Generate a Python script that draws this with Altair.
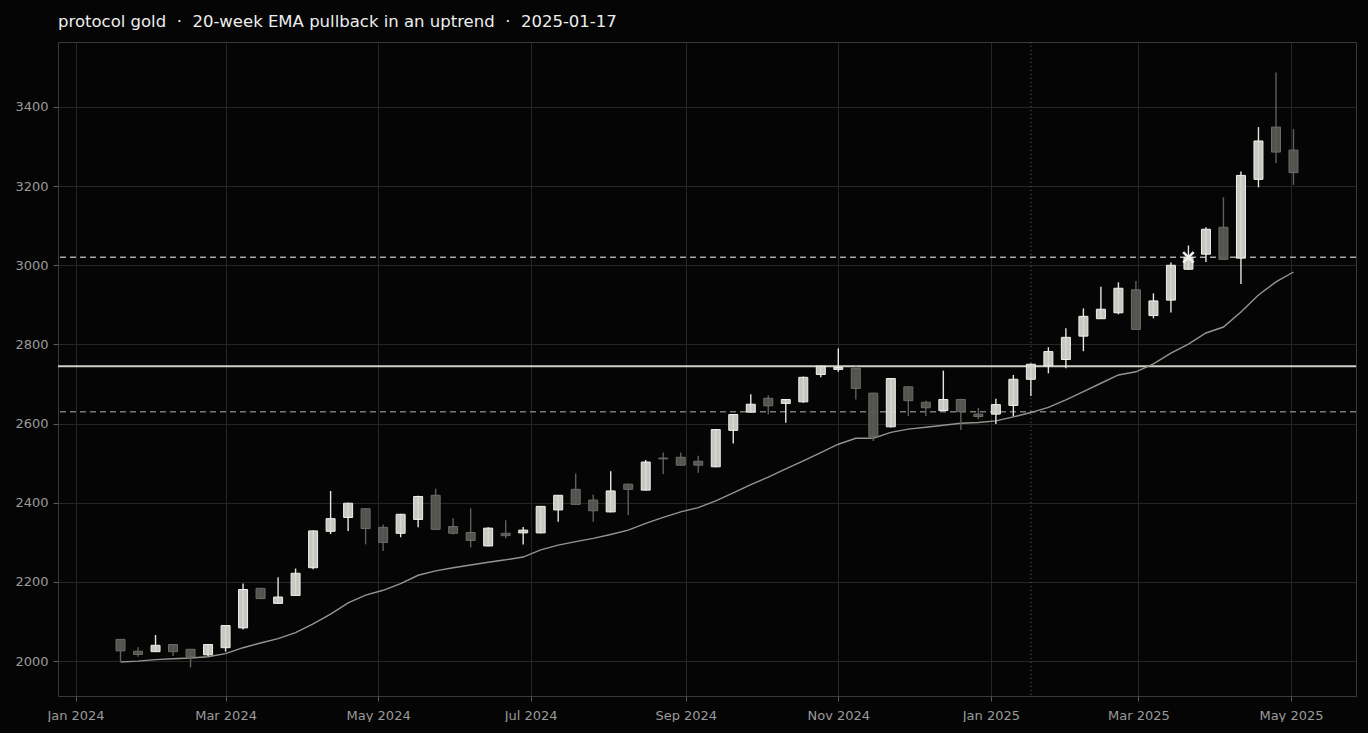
import altair as alt
import pandas as pd

# weekly candles (Fridays)
dates = pd.date_range("2024-01-19", periods=68, freq="7D").strftime("%Y-%m-%dT00:00:00").tolist()

opens = [2055, 2025, 2024, 2042, 2030, 2016, 2034, 2084, 2184, 2146,
         2166, 2236, 2328, 2363, 2385, 2338, 2323, 2358, 2419, 2340,
         2325, 2291, 2323, 2324, 2324, 2382, 2434, 2407, 2377, 2447,
         2432, 2513, 2515, 2505, 2491, 2583, 2629, 2664, 2651, 2655,
         2724, 2737, 2740, 2677, 2592, 2693, 2654, 2633, 2661, 2624,
         2624, 2646, 2712, 2746, 2762, 2821, 2865, 2880, 2938, 2873,
         2912, 2990, 3028, 3096, 3018, 3217, 3349, 3291]
closes = [2026, 2017, 2040, 2024, 2011, 2042, 2090, 2181, 2158, 2162,
          2222, 2329, 2360, 2399, 2335, 2300, 2371, 2416, 2333, 2323,
          2305, 2336, 2317, 2331, 2391, 2419, 2396, 2380, 2430, 2434,
          2503, 2511, 2495, 2495, 2585, 2623, 2649, 2645, 2661, 2717,
          2745, 2742, 2689, 2567, 2714, 2658, 2640, 2661, 2630, 2618,
          2648, 2712, 2750, 2782, 2818, 2871, 2889, 2942, 2838, 2910,
          3000, 3020, 3091, 3015, 3227, 3314, 3286, 3234]
highs = [2056, 2035, 2066, 2043, 2031, 2043, 2091, 2196, 2185, 2212,
         2234, 2330, 2430, 2400, 2386, 2345, 2372, 2418, 2436, 2361,
         2386, 2338, 2356, 2339, 2392, 2420, 2474, 2421, 2480, 2448,
         2508, 2527, 2527, 2519, 2586, 2624, 2674, 2672, 2662, 2719,
         2746, 2790, 2745, 2678, 2715, 2694, 2658, 2734, 2663, 2640,
         2663, 2723, 2752, 2793, 2841, 2891, 2946, 2957, 2960, 2929,
         3007, 3050, 3096, 3172, 3237, 3349, 3487, 3344]
lows = [1998, 2011, 2023, 2013, 1984, 2013, 2024, 2080, 2157, 2145,
        2165, 2232, 2321, 2329, 2295, 2278, 2313, 2338, 2332, 2320,
        2287, 2290, 2310, 2295, 2323, 2352, 2395, 2352, 2376, 2369,
        2431, 2473, 2494, 2476, 2490, 2550, 2628, 2624, 2602, 2653,
        2717, 2731, 2661, 2556, 2590, 2619, 2619, 2632, 2584, 2611,
        2599, 2619, 2670, 2727, 2740, 2783, 2864, 2876, 2837, 2866,
        2881, 2988, 3008, 3014, 2953, 3197, 3258, 3203]
ema20 = [1998, 2000, 2004, 2006, 2008, 2011, 2019, 2034, 2046, 2057,
         2072, 2094, 2119, 2147, 2167, 2179, 2196, 2217, 2228, 2236,
         2243, 2250, 2256, 2263, 2281, 2293, 2302, 2310, 2320, 2331,
         2348, 2363, 2377, 2388, 2405, 2425, 2446, 2465, 2486, 2506,
         2527, 2548, 2563, 2563, 2578, 2586, 2591, 2596, 2601, 2603,
         2607, 2617, 2628, 2641, 2660, 2681, 2702, 2723, 2731, 2751,
         2778, 2801, 2829, 2844, 2882, 2925, 2958, 2983]

upper_level = 3020
mid_level = 2745
lower_level = 2630
signal_date = ["2025-01-17T00:00:00"]
marker_date = ["2025-03-21T00:00:00"]
marker_level = [3020]

sep = "\u00a0\u00a0\u00b7\u00a0\u00a0"
title_text = "protocol gold" + sep + "20-week EMA pullback in an uptrend" + sep + "2025-01-17"

BG = "#050505"

df = pd.DataFrame({"date": dates, "open": opens, "close": closes,
                   "high": highs, "low": lows, "ema": ema20})
df["dir"] = ["up" if c > o else "down" for o, c in zip(opens, closes)]

x_scale = alt.Scale(domain=[alt.DateTime(year=2023, month=12, date=25),
                            alt.DateTime(year=2025, month=5, date=27)], padding=0)
x_ticks = [alt.DateTime(year=y, month=m, date=1)
           for y, m in [(2024, 1), (2024, 3), (2024, 5), (2024, 7), (2024, 9),
                        (2024, 11), (2025, 1), (2025, 3), (2025, 5)]]
x_enc = alt.X("date:T", scale=x_scale,
              axis=alt.Axis(values=x_ticks, format="%b %Y", title=None,
                            labelFlush=False, labelPadding=8))
y_scale = alt.Scale(domain=[1912, 3564], nice=False, zero=False, padding=0)
y_axis = alt.Axis(values=list(range(2000, 3401, 200)), format="d", title=None)
y_enc = alt.Y("low:Q", scale=y_scale, axis=y_axis)

dir_dom = ["up", "down"]

base = alt.Chart(df)

wicks = base.mark_rule(strokeWidth=1.4).encode(
    x=x_enc, y=y_enc, y2="high:Q",
    color=alt.Color("dir:N", scale=alt.Scale(domain=dir_dom, range=["#e6e6e0", "#615f5b"]), legend=None),
)

bodies = base.mark_bar(size=9, strokeWidth=1, fillOpacity=0.92).encode(
    x=x_enc,
    y=alt.Y("open:Q", scale=y_scale, axis=y_axis),
    y2="close:Q",
    fill=alt.Fill("dir:N", scale=alt.Scale(domain=dir_dom, range=["#d8d8d2", "#5a5955"]), legend=None),
    stroke=alt.Stroke("dir:N", scale=alt.Scale(domain=dir_dom, range=["#f0f0ec", "#6e6d68"]), legend=None),
)

ema_line = base.mark_line(color="#95958f", strokeWidth=1.4).encode(
    x=x_enc, y=alt.Y("ema:Q", scale=y_scale)
)

upper = alt.Chart(pd.DataFrame({"v": [upper_level]})).mark_rule(
    color="#a8a8a4", strokeWidth=1.5, strokeDash=[6, 4]).encode(y=alt.Y("v:Q", scale=y_scale))
mid = alt.Chart(pd.DataFrame({"v": [mid_level]})).mark_rule(
    color="#cfcfca", strokeWidth=2).encode(y=alt.Y("v:Q", scale=y_scale))
lower = alt.Chart(pd.DataFrame({"v": [lower_level]})).mark_rule(
    color="#7a7a76", strokeWidth=1.5, strokeDash=[6, 4]).encode(y=alt.Y("v:Q", scale=y_scale))

vline = alt.Chart(pd.DataFrame({"date": signal_date})).mark_rule(
    color="#6a6a66", strokeWidth=1, strokeDash=[1, 3]).encode(x=alt.X("date:T", scale=x_scale))

marker = alt.Chart(pd.DataFrame({"date": marker_date, "v": marker_level})).mark_point(
    shape="M-1,-1L1,1M-1,1L1,-1", size=110, filled=False, stroke="#eeeeea",
    strokeWidth=2.6, opacity=1).encode(
    x=alt.X("date:T", scale=x_scale), y=alt.Y("v:Q", scale=y_scale))

chart = alt.layer(vline, lower, mid, upper, ema_line, wicks, bodies, marker).properties(
    width=1298, height=654,
    title=alt.TitleParams(text=title_text, anchor="start", frame="group", color="#eeeeee",
                          fontSize=16.5, font="DejaVu Sans", fontWeight="normal", offset=11),
    background=BG,
    padding={"left": 50, "top": 34, "right": 2, "bottom": 26},
    autosize=alt.AutoSizeParams(type="none"),
).configure_view(
    stroke="#3a3a3a", strokeWidth=1
).configure_axis(
    domain=False, grid=True, gridColor="#262626", gridWidth=1,
    tickColor="#5a5a5a", tickSize=5, labelColor="#9a9a9a",
    labelFont="DejaVu Sans", labelFontSize=13, labelPadding=5,
)

chart.save("out.html", embed_options={"renderer": "svg", "actions": False})

# dark page behind the chart, like the reference
with open("out.html", encoding="utf-8") as f:
    html = f.read()
html = html.replace("<head>", "<head><style>html,body{background:%s;}</style>" % BG, 1)
with open("out.html", "w", encoding="utf-8") as f:
    f.write(html)
